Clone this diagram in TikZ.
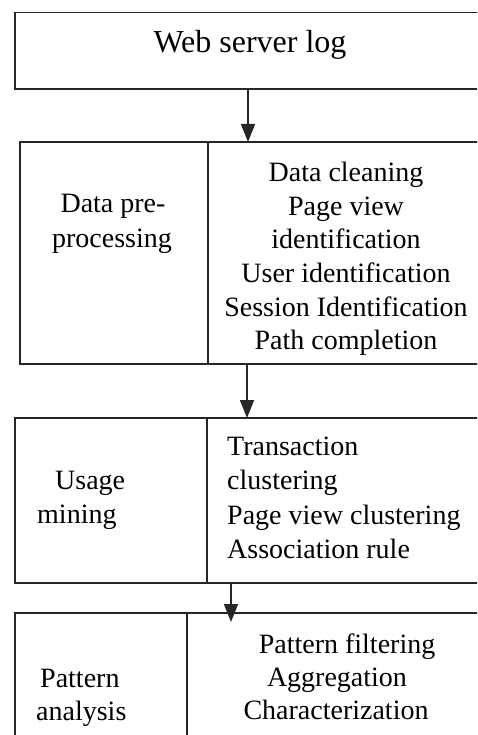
\documentclass[tikz,border=0pt]{standalone}
\usepackage{fontspec}
\setmainfont{Liberation Serif}
\usetikzlibrary{arrows.meta}
\begin{document}
\begin{tikzpicture}[x=1pt,y=-1pt,
  cell/.style={draw=black!85, line width=1.6pt, anchor=north west, inner sep=0pt, outer sep=0pt},
  arr/.style={draw=black!85, line width=1.6pt, -{Triangle[width=14pt,length=18pt]}},
  txt/.style={font=\fontsize{28}{33.5}\selectfont, inner sep=0pt, anchor=base},
  txtl/.style={txt, anchor=base west},
  title/.style={font=\fontsize{32}{38}\selectfont, inner sep=0pt, anchor=base},
]
\useasboundingbox (0,0) rectangle (477,735);
\clip (0,0) rectangle (477,735);

% boxes
\node[cell, minimum width=485pt, minimum height=76.5pt] (log) at (15,12.5) {};
\node[cell, minimum width=188pt, minimum height=222pt] (prepL) at (20,142) {};
\node[cell, minimum width=290pt, minimum height=222pt] (prepR) at (208,142) {};
\node[cell, minimum width=192pt, minimum height=165pt] (useL) at (15,418) {};
\node[cell, minimum width=290pt, minimum height=165pt] (useR) at (207,418) {};
\node[cell, minimum width=172pt, minimum height=200pt] (patL) at (15,613) {};
\node[cell, minimum width=310pt, minimum height=200pt] (patR) at (187,613) {};

% arrows
\draw[arr] ([xshift=233pt]log.south west) -- ([xshift=228pt]prepL.north west);
\draw[arr] ([xshift=227pt]prepL.south west) -- ([xshift=232pt]useL.north west);
\draw[arr, shorten >=-9pt] ([xshift=216pt]useL.south west) -- ([xshift=216pt]patL.north west);

% texts
\node[title] (t0) at (250,53) {Web server log};

\node[txt] (t1) at (113,213) {Data pre-};
\node[txt] (t2) at (112,247) {processing};

\node[txt] (t3) at (346,181.5) {Data cleaning};
\node[txt] (t4) at (346,215) {Page view};
\node[txt] (t5) at (346,248.5) {identification};
\node[txt] (t6) at (346,282) {User identification};
\node[txt] (t7) at (346,316) {Session Identification};
\node[txt] (t8) at (346,349.5) {Path completion};

\node[txtl] (t9) at (55,489) {Usage};
\node[txtl] (t10) at (37,523) {mining};

\node[txtl] (t11) at (227,455) {Transaction};
\node[txtl] (t12) at (227,489) {clustering};
\node[txtl] (t13) at (227,524) {Page view clustering};
\node[txtl] (t14) at (227,558) {Association rule};

\node[txtl] (t15) at (40,687) {Pattern};
\node[txtl] (t16) at (36,720) {analysis};

\node[txt] (t17) at (347,653) {Pattern filtering};
\node[txt] (t18) at (337,686) {Aggregation};
\node[txt] (t19) at (336,719) {Characterization};
\end{tikzpicture}
\end{document}
